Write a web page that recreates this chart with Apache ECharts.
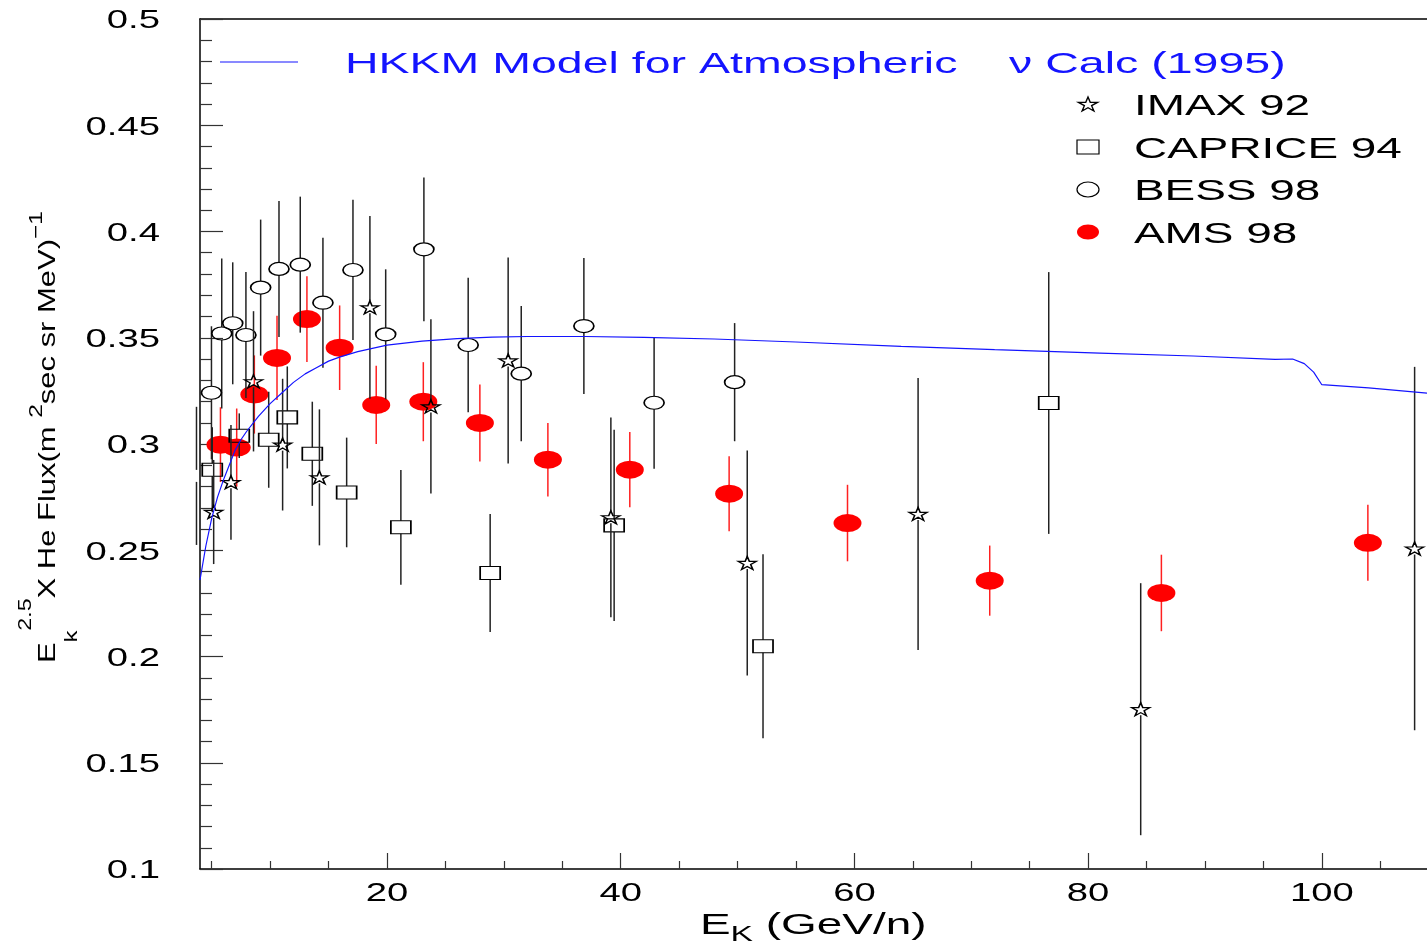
<!DOCTYPE html>
<html>
<head>
<meta charset="utf-8">
<script src="https://cdn.jsdelivr.net/npm/echarts@6/dist/echarts.min.js"></script>
<style>
html,body{margin:0;padding:0;background:#fff;}
#c{width:1427px;height:948px;}
</style>
</head>
<body>
<div id="c"></div>
<script>
// ---------------- data ----------------
const xMajorTicks = [20, 40, 60, 80, 100];
const xMinorTicks = [5, 10, 15, 25, 30, 35, 45, 50, 55, 65, 70, 75, 85, 90, 95, 105];
const yTickLabels = ['0.1', '0.15', '0.2', '0.25', '0.3', '0.35', '0.4', '0.45', '0.5'];

const modelName = 'HKKM Model for Atmospheric    \u03bd Calc (1995)';
const modelX = [4.0, 4.5, 5.0, 5.5, 6.0, 6.5, 7.0, 7.5, 8.0, 9.0, 10.0, 11.0, 12.0, 13.0, 14.0, 15.0, 16.0, 17.5, 20.0, 23.0, 26.0, 29.0, 32.0, 37.0, 42.0, 48.0, 55.0, 64.0, 72.0, 81.0, 89.0, 96.0, 97.5, 98.5, 99.3, 100.0, 104.0, 109.0];
const modelY = [0.236, 0.252, 0.265, 0.275, 0.283, 0.290, 0.297, 0.302, 0.306, 0.313, 0.319, 0.324, 0.329, 0.333, 0.336, 0.339, 0.341, 0.3435, 0.3465, 0.3484, 0.3496, 0.3503, 0.3506, 0.3506, 0.3502, 0.3494, 0.3480, 0.3459, 0.3444, 0.3428, 0.3414, 0.3398, 0.3400, 0.3378, 0.3338, 0.3279, 0.3264, 0.3239];

const imaxName = 'IMAX 92';
const imaxX = [3.7, 5.17, 6.65, 8.58, 11.07, 14.22, 18.54, 23.76, 30.37, 39.16, 50.83, 65.45, 84.50, 107.94];
const imaxY = [0.285, 0.268, 0.282, 0.3295, 0.2997, 0.2843, 0.3643, 0.3177, 0.3393, 0.2655, 0.2440, 0.2671, 0.1752, 0.2508];
const imaxErr = [0.0325, 0.0245, 0.027, 0.033, 0.031, 0.032, 0.043, 0.041, 0.0485, 0.047, 0.0529, 0.064, 0.0593, 0.0855];

const capriceName = 'CAPRICE 94';
const capriceX = [5.05, 7.36, 9.88, 11.47, 13.61, 16.55, 21.19, 28.83, 39.44, 52.18, 76.63];
const capriceY = [0.2879, 0.3039, 0.302, 0.3125, 0.2954, 0.2772, 0.2608, 0.2393, 0.2617, 0.2048, 0.3193];
const capriceErr = [0.02, 0.0105, 0.0226, 0.024, 0.0245, 0.0258, 0.027, 0.0278, 0.045, 0.0433, 0.0616];

const bessName = 'BESS 98';
const bessX = [4.98, 5.86, 6.80, 7.93, 9.19, 10.76, 12.58, 14.52, 17.09, 19.89, 23.16, 26.95, 31.49, 36.85, 42.86, 49.75];
const bessY = [0.3241, 0.352, 0.3568, 0.3513, 0.3736, 0.3824, 0.3844, 0.3665, 0.3819, 0.3516, 0.3916, 0.3466, 0.3331, 0.3555, 0.3194, 0.3291];
const bessErr = [0.0313, 0.0353, 0.0287, 0.0296, 0.032, 0.032, 0.032, 0.0306, 0.033, 0.0306, 0.0338, 0.0316, 0.0318, 0.032, 0.031, 0.0278];

const amsName = 'AMS 98';
const amsX = [5.75, 7.14, 8.65, 10.59, 13.15, 15.95, 19.08, 23.11, 27.95, 33.77, 40.78, 49.28, 59.41, 71.58, 86.27, 103.94];
const amsY = [0.2997, 0.2983, 0.3233, 0.3405, 0.3588, 0.3453, 0.3184, 0.3199, 0.3099, 0.2926, 0.2879, 0.2766, 0.2628, 0.2357, 0.2299, 0.2535];
const amsErr = [0.0176, 0.0184, 0.0184, 0.0198, 0.0202, 0.0199, 0.0184, 0.0186, 0.0181, 0.0173, 0.0177, 0.0176, 0.018, 0.0165, 0.018, 0.0179];

// ---------------- style ----------------
const FONT = "'Liberation Sans', Arial, Helvetica, sans-serif";
const SX = 1.53;
const BLUE = '#1414ff';
const STAR = 'path://M50,0 L61.23,34.55 L97.55,34.55 L68.17,55.9 L79.39,90.45 L50,69.1 L20.61,90.45 L31.83,55.9 L2.45,34.55 L38.77,34.55 Z';
const XMIN = 4, XMAX = 109;

function errSeries(name, xs, ys, es, color, gap, z) {
  return {
    type: 'custom', name: name, z: z, clip: false, silent: true,
    data: xs.map((x, i) => [x, ys[i], es[i]]),
    encode: { x: 0, y: 1 },
    renderItem: function (params, api) {
      const x = api.value(0), y = api.value(1), e = api.value(2);
      const c = api.coord([x, y]);
      const hi = api.coord([x, y + e]);
      const lo = api.coord([x, y - e]);
      const st = { stroke: color, lineWidth: 1.5 };
      const ch = [];
      if (gap > 0) {
        if (c[1] - gap > hi[1]) ch.push({ type: 'line', shape: { x1: c[0], y1: hi[1], x2: c[0], y2: c[1] - gap }, style: st });
        if (c[1] + gap < lo[1]) ch.push({ type: 'line', shape: { x1: c[0], y1: c[1] + gap, x2: c[0], y2: lo[1] }, style: st });
      } else {
        ch.push({ type: 'line', shape: { x1: c[0], y1: hi[1], x2: c[0], y2: lo[1] }, style: st });
      }
      return { type: 'group', children: ch };
    }
  };
}
function markSeries(name, xs, ys, symbol, size, fill, z) {
  return {
    type: 'scatter', name: name, z: z, clip: true,
    data: xs.map((x, i) => [x, ys[i]]),
    symbol: symbol, symbolSize: size, symbolKeepAspect: false,
    itemStyle: fill ? { color: fill, borderWidth: 0, opacity: 1 }
                    : { color: 'rgba(0,0,0,0)', borderColor: '#000', borderWidth: 1.4, opacity: 1 },
    emphasis: { disabled: true }, silent: true
  };
}

const axisLineStyle = { color: '#000', width: 1.5 };
const tickLineStyle = { color: '#333', width: 1.2 };

const option = {
  animation: false,
  backgroundColor: '#fff',
  grid: { left: 200, right: 0, top: 19, bottom: 79, containLabel: false },
  xAxis: [
    { type: 'value', min: XMIN, max: XMAX, position: 'bottom',
      axisLine: { show: true, onZero: false, lineStyle: axisLineStyle },
      axisTick: { show: true, inside: true, length: 16, customValues: xMajorTicks, lineStyle: tickLineStyle },
      axisLabel: { show: false }, splitLine: { show: false } },
    { type: 'value', min: XMIN, max: XMAX, position: 'bottom',
      axisLine: { show: false, onZero: false },
      axisTick: { show: true, inside: true, length: 8, customValues: xMinorTicks, lineStyle: tickLineStyle },
      axisLabel: { show: false }, splitLine: { show: false } },
    { type: 'value', min: XMIN, max: XMAX, position: 'top',
      axisLine: { show: true, onZero: false, lineStyle: axisLineStyle },
      axisTick: { show: false }, axisLabel: { show: false }, splitLine: { show: false } }
  ],
  yAxis: [
    { type: 'value', min: 0.1, max: 0.5, interval: 0.05, position: 'left',
      axisLine: { show: true, onZero: false, lineStyle: axisLineStyle },
      axisTick: { show: true, inside: true, length: 23, lineStyle: tickLineStyle },
      minorTick: { show: true, splitNumber: 5, length: 12, lineStyle: tickLineStyle },
      axisLabel: { show: false }, splitLine: { show: false } }
  ],
  series: [
    errSeries(amsName, amsX, amsY, amsErr, '#ff2020', 0, 2),
    markSeries(amsName, amsX, amsY, 'circle', [28, 18], '#ff0000', 3),
    errSeries(capriceName, capriceX, capriceY, capriceErr, '#222', 6.5, 4),
    markSeries(capriceName, capriceX, capriceY, 'rect', [20, 13], null, 5),
    errSeries(bessName, bessX, bessY, bessErr, '#222', 6.5, 6),
    markSeries(bessName, bessX, bessY, 'circle', [20, 13], null, 7),
    errSeries(imaxName, imaxX, imaxY, imaxErr, '#222', 6, 8),
    markSeries(imaxName, imaxX, imaxY, STAR, [18, 13], null, 9),
    { type: 'line', name: modelName, z: 10, silent: true,
      data: modelX.map((x, i) => [x, modelY[i]]),
      showSymbol: false, symbol: 'none', smooth: false,
      lineStyle: { color: BLUE, width: 1.2 } }
  ]
};

const chart = echarts.init(document.getElementById('c'), null, { renderer: 'canvas' });
chart.setOption(option);

function px(x, y) { return chart.convertToPixel({ xAxisIndex: 0, yAxisIndex: 0 }, [x, y]); }

function txt(x, y, text, size, align, color, sx) {
  return {
    type: 'text', x: x, y: y, scaleX: sx || SX, z: 100, silent: true,
    style: { text: text, fontSize: size, fontFamily: FONT, fill: color || '#000',
             align: align || 'left', verticalAlign: 'middle' }
  };
}
function starPts(cx, cy, w, h) {
  const raw = [[50,0],[61.23,34.55],[97.55,34.55],[68.17,55.9],[79.39,90.45],[50,69.1],[20.61,90.45],[31.83,55.9],[2.45,34.55],[38.77,34.55]];
  return raw.map(p => [cx + (p[0] - 50) / 95.1 * w, cy + (p[1] - 45.2) / 90.45 * h]);
}

const g = [];
// y tick labels
yTickLabels.forEach(t => { const p = px(XMIN, parseFloat(t)); g.push(txt(160, p[1] + 2.5, t, 25, 'right')); });
// x tick labels
xMajorTicks.forEach(v => { const p = px(v, 0.1); g.push(txt(p[0], 894, String(v), 25, 'center')); });
// x axis title
g.push({
  type: 'text', x: 700, y: 926, scaleX: SX, z: 100, silent: true,
  style: {
    text: '{m|E}{sub|K}{m| (GeV/n)}', fontFamily: FONT, align: 'left', verticalAlign: 'middle', fill: '#000',
    rich: {
      m: { fontSize: 30, fontFamily: FONT, lineHeight: 40, fill: '#000' },
      sub: { fontSize: 22, fontFamily: FONT, lineHeight: 16, verticalAlign: 'bottom', fill: '#000' }
    }
  }
});
// y axis title (rotated, reads bottom to top)
g.push({
  type: 'text', x: 48, y: 437, rotation: Math.PI / 2, scaleX: 1.29, z: 100, silent: true,
  style: {
    text: '{m|E}{sub|k}{sup|2.5}{m|X He Flux(m }{sup2|2}{m|sec sr MeV)}{sup2|\u22121}',
    fontFamily: FONT, align: 'center', verticalAlign: 'middle', fill: '#000',
    rich: {
      m: { fontSize: 24, fontFamily: FONT, lineHeight: 80, fill: '#000' },
      sup: { fontSize: 18, fontFamily: FONT, padding: [0, 0, 44, 0], fill: '#000' },
      sup2: { fontSize: 19, fontFamily: FONT, padding: [0, 0, 22, 0], fill: '#000' },
      sub: { fontSize: 18, fontFamily: FONT, padding: [48, 0, 0, 0], fill: '#000' }
    }
  }
});
// legend: model line
g.push({ type: 'line', z: 100, silent: true, shape: { x1: 220, y1: 62, x2: 298, y2: 62 }, style: { stroke: BLUE, lineWidth: 1.2 } });
g.push(txt(345, 65, modelName, 30, 'left', BLUE, 1.55));
// legend: markers
g.push({ type: 'polygon', z: 100, silent: true, shape: { points: starPts(1088, 104, 19, 14) }, style: { fill: 'none', stroke: '#000', lineWidth: 1.4 } });
g.push(txt(1134, 107, imaxName, 30));
g.push({ type: 'rect', z: 100, silent: true, shape: { x: 1077, y: 140, width: 22, height: 14 }, style: { fill: 'none', stroke: '#000', lineWidth: 1.2 } });
g.push(txt(1134, 150, capriceName, 30));
g.push({ type: 'ellipse', z: 100, silent: true, shape: { cx: 1088, cy: 189.5, rx: 11, ry: 7.5 }, style: { fill: 'none', stroke: '#000', lineWidth: 1.2 } });
g.push(txt(1134, 192, bessName, 30));
g.push({ type: 'ellipse', z: 100, silent: true, shape: { cx: 1088, cy: 232, rx: 11, ry: 7.5 }, style: { fill: '#ff0000' } });
g.push(txt(1134, 234.5, amsName, 30));

chart.setOption({ graphic: { elements: g } });
</script>
</body>
</html>
